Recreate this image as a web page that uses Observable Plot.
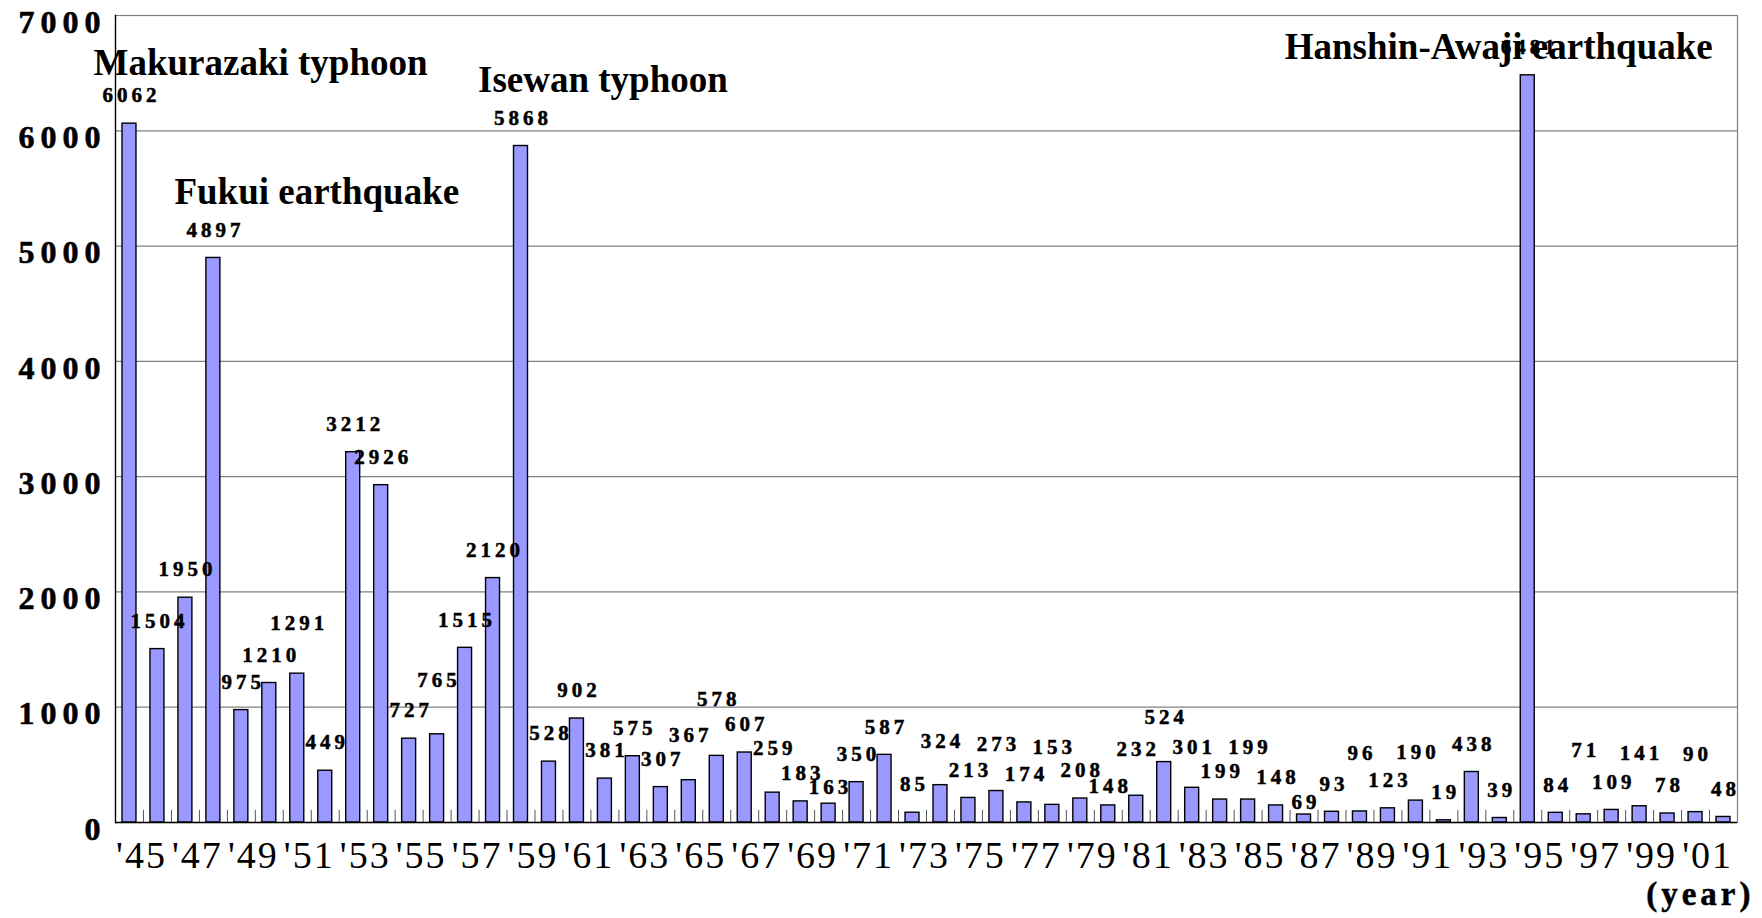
<!DOCTYPE html>
<html>
<head>
<meta charset="utf-8">
<script src="https://cdn.jsdelivr.net/npm/d3@7"></script>
<script src="https://cdn.jsdelivr.net/npm/@observablehq/plot@0.6"></script>
<style>
html, body { margin: 0; padding: 0; background: #fff; }
#chart svg { display: block; }
</style>
</head>
<body>
<div id="chart"></div>
<script>
const years = [1945,1946,1947,1948,1949,1950,1951,1952,1953,1954,1955,1956,1957,1958,1959,
  1960,1961,1962,1963,1964,1965,1966,1967,1968,1969,1970,1971,1972,1973,1974,1975,1976,1977,
  1978,1979,1980,1981,1982,1983,1984,1985,1986,1987,1988,1989,1990,1991,1992,1993,1994,1995,
  1996,1997,1998,1999,2000,2001,2002];
const deaths = [6062,1504,1950,4897,975,1210,1291,449,3212,2926,727,765,1515,2120,5868,
  528,902,381,575,307,367,578,607,259,183,163,350,587,85,324,213,273,174,
  153,208,148,232,524,301,199,199,148,69,93,96,123,190,19,438,39,6481,
  84,71,109,141,78,90,48];
const xTickYears = [1945,1947,1949,1951,1953,1955,1957,1959,1961,1963,1965,1967,1969,1971,
  1973,1975,1977,1979,1981,1983,1985,1987,1989,1991,1993,1995,1997,1999,2001];
const xTickLabels = ["'45","'47","'49","'51","'53","'55","'57","'59","'61","'63","'65","'67","'69","'71",
  "'73","'75","'77","'79","'81","'83","'85","'87","'89","'91","'93","'95","'97","'99","'01"];
const yTicks = [0,1000,2000,3000,4000,5000,6000,7000];
const eventNames = ["Makurazaki typhoon","Fukui earthquake","Isewan typhoon","Hanshin-Awaji earthquake"];
const eventYears = [1945,1948,1959,1995];
const unitLabel = "(year)";

// layout only: extra vertical lift (px) of some value labels, as placed in the original
const labelLift = {1951: 22, 1956: 26, 1965: 17, 1966: 29, 1968: 16, 1970: -12, 1974: 16, 1976: 19,
  1978: 30, 1980: -9, 1981: 18, 1982: 17, 1983: 13, 1985: 24, 1987: -16, 1989: 30, 1991: 20,
  1997: 36, 1999: 25, 2001: 30};

const data = years.map((year, i) => ({year, deaths: deaths[i]}));
const events = eventNames.map((name, i) => ({name, year: eventYears[i], deaths: deaths[years.indexOf(eventYears[i])]}));

const W = 1762, H = 918, mL = 115, mR = 25, mT = 15, mB = 96;
const step = (W - mL - mR) / years.length;
const serif = "Liberation Serif";

const eventText = (name, dx, dy) => Plot.text(events.filter(d => d.name === name), {
  x: "year", y: "deaths", text: "name", textAnchor: "start", dx, dy,
  fontSize: 37, fontWeight: "bold", fontFamily: serif, fill: "#000"
});

const liftGroups = d3.groups(data, d => labelLift[d.year] || 0);

const chart = Plot.plot({
  width: W, height: H,
  marginLeft: mL, marginRight: mR, marginTop: mT, marginBottom: mB,
  style: {fontFamily: serif, background: "#fff", color: "#000", overflow: "visible"},
  x: {type: "band", domain: years, paddingInner: 0.5, paddingOuter: 0.25, label: null},
  y: {domain: [0, 7000], label: null},
  marks: [
    Plot.gridY(yTicks.slice(1), {stroke: "#808080", strokeOpacity: 1, strokeWidth: 1.2}),
    Plot.frame({stroke: "#808080", strokeWidth: 1.2}),
    Plot.ruleX(years.slice(0, -1), {x: d => d, dx: step / 2, y1: 0, y2: 105, stroke: "#555", strokeWidth: 1}),
    Plot.barY(data, {x: "year", y: "deaths", fill: "#9999FF", stroke: "#000", strokeWidth: 1.4}),
    Plot.frame({anchor: "left", stroke: "#000", strokeWidth: 1.3}),
    Plot.ruleY([0], {stroke: "#000", strokeWidth: 1.6}),
    Plot.axisY({ticks: yTicks, tickFormat: d => String(d), tickSize: 0, tickPadding: 9, dy: 7,
      fontSize: 32, fontWeight: "bold", fontFamily: serif, label: null}),
    Plot.axisX({ticks: xTickYears, tickFormat: d => xTickLabels[xTickYears.indexOf(d)], tickSize: 0,
      tickPadding: 19, dx: 12, fontSize: 38, fontWeight: "normal", fontFamily: serif, label: null}),
    ...liftGroups.map(([lift, rows]) => Plot.text(rows, {x: "year", y: "deaths", text: d => String(d.deaths),
      dy: -28 - lift, dx: 2, fontSize: 21, fontWeight: "bold", fontFamily: serif, fill: "#000"})),
    eventText("Makurazaki typhoon", -36, -60),
    eventText("Fukui earthquake", -39, -66),
    eventText("Isewan typhoon", -43, -66),
    eventText("Hanshin-Awaji earthquake", -243, -28),
    Plot.text([unitLabel], {text: d => d, frameAnchor: "bottom-right", textAnchor: "end", dx: 17, dy: 82,
      fontSize: 33, fontWeight: "bold", fontFamily: serif, fill: "#000"})
  ]
});
document.getElementById("chart").appendChild(chart);

const svg = d3.select(chart);
svg.selectAll('g[aria-label="y-axis tick label"] text').style("letter-spacing", "6px")
  .style("stroke", "#000").style("stroke-width", "0.6px");
svg.selectAll('g[aria-label="x-axis tick label"] text').style("letter-spacing", "2px");
svg.selectAll('g[font-size="21"] text').style("letter-spacing", "4px")
  .style("stroke", "#000").style("stroke-width", "0.5px");
svg.selectAll('g[font-size="33"] text').style("letter-spacing", "4px")
  .style("stroke", "#000").style("stroke-width", "0.5px");
</script>
</body>
</html>
